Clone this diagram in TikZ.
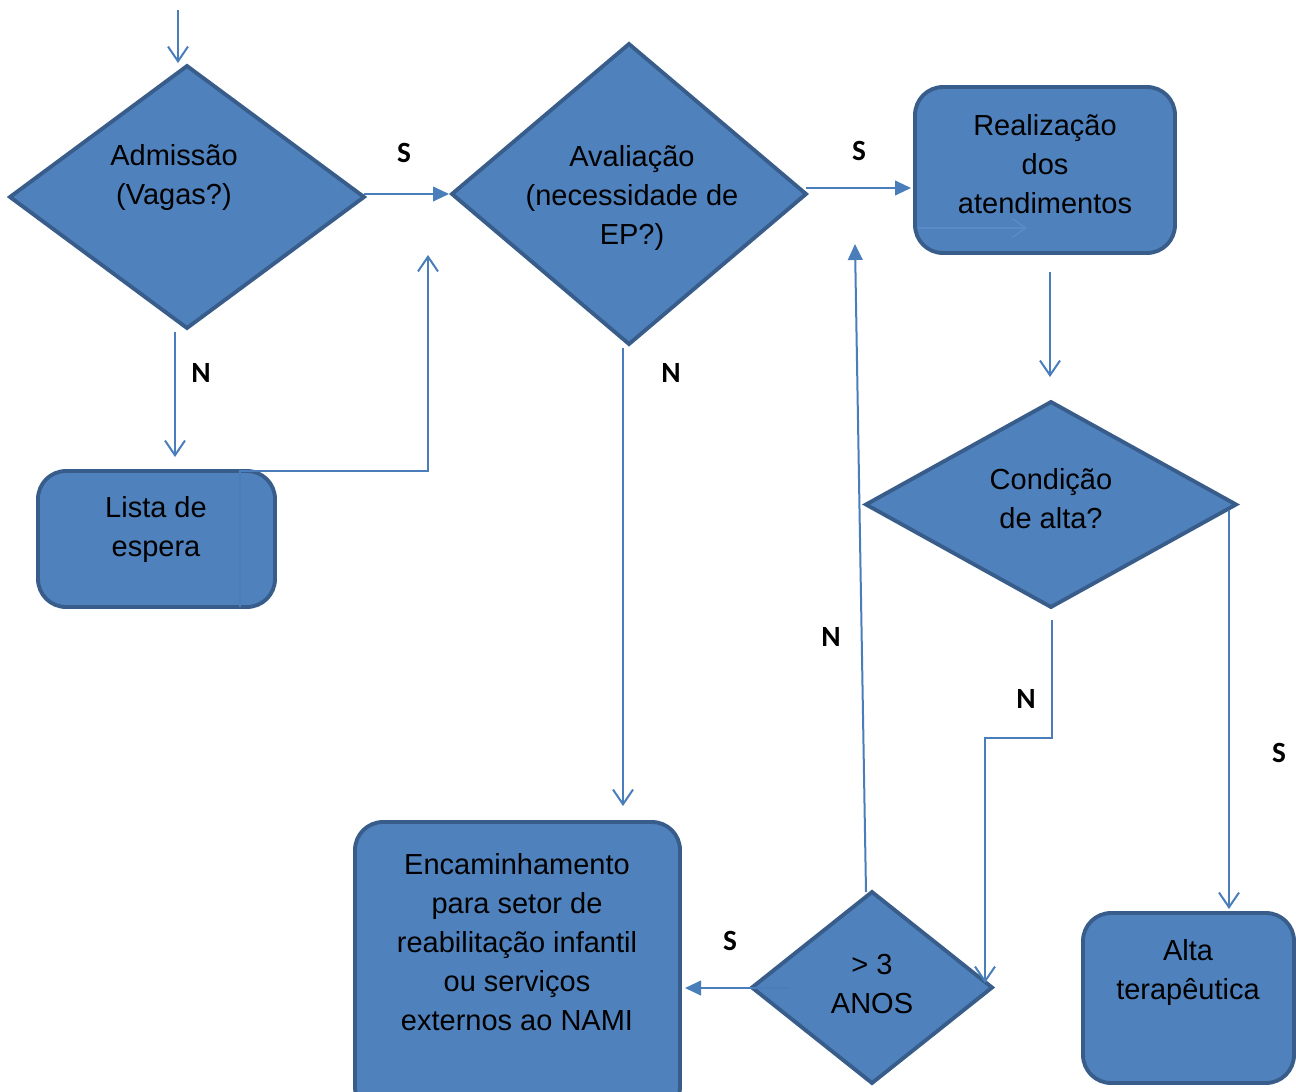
\documentclass[tikz,border=0pt]{standalone}
\usepackage{fontspec}
\setmainfont{Liberation Sans}
\newfontfamily\lblfont{Carlito}
\usetikzlibrary{arrows.meta,shapes.geometric}
\definecolor{fillblue}{HTML}{4F81BD}
\definecolor{edgeblue}{HTML}{385D8A}
\definecolor{lineblue}{HTML}{4A7EBB}
\definecolor{faintblue}{HTML}{5A8BC8}
\tikzset{
  shapebase/.style={fill=fillblue, draw=edgeblue, line width=2.9pt, inner sep=0pt, outer sep=0pt},
  dia/.style={shapebase, diamond},
  rbox/.style={shapebase, rectangle, rounded corners=21pt},
  txt/.style={align=center, text=black, inner sep=0pt, font=\fontsize{21.75}{29.25}\selectfont},
  lbl/.style={text=black, inner sep=0pt, font=\lblfont\bfseries\fontsize{22}{26}\selectfont},
  conn/.style={draw=lineblue, line width=1.5pt},
  vtip/.style={-{Straight Barb[length=11pt,width=15pt]}},
  ftip/.style={-{Triangle[length=12pt,width=11pt]}},
}
\begin{document}
\begin{tikzpicture}[x=0.75pt,y=-0.75pt]
\clip (0,0) rectangle (1296,1092);
\fill[white] (0,0) rectangle (1296,1092);

% shapes
\node[dia, minimum width=265.5pt, minimum height=196.5pt] (d1) at (187,197) {};
\node[dia, minimum width=265.5pt, minimum height=225pt] (d2) at (629,194) {};
\node[dia, minimum width=277.5pt, minimum height=153.75pt] (d3) at (1051,504.5) {};
\node[dia, minimum width=180pt, minimum height=143.25pt] (d4) at (872,987.5) {};
\node[rbox, minimum width=195pt, minimum height=124.5pt] (r1) at (1045,170) {};
\node[rbox, minimum width=177.75pt, minimum height=102pt] (r2) at (156.5,539) {};
\node[rbox, minimum width=243.75pt, minimum height=219.75pt] (r3) at (517.5,968.5) {};
\node[rbox, minimum width=158.25pt, minimum height=127.5pt] (r4) at (1188.5,998) {};

% texts
\node[txt] (t1) at (174,177) {Admissão\\(Vagas?)};
\node[txt] (t2) at (632,198) {Avaliação\\(necessidade de\\EP?)};
\node[txt] (t3) at (1045,164) {Realização\\dos\\atendimentos};
\node[txt] (t4) at (156,529) {Lista de\\espera};
\node[txt] (t5) at (1051,499) {Condição\\de alta?};
\node[txt] (t6) at (517,942) {Encaminhamento\\para setor de\\reabilitação infantil\\ou serviços\\externos ao NAMI};
\node[txt] (t7) at (872,984) {> 3\\ANOS};
\node[txt] (t8) at (1188,972) {Alta\\terapêutica};

% labels
\node[lbl] (sA) at (404,153) {S};
\node[lbl] (nA) at (201,373) {N};
\node[lbl] (sB) at (859,151) {S};
\node[lbl] (nB) at (671,373) {N};
\node[lbl] (nC) at (831,637) {N};
\node[lbl] (nD) at (1026,699) {N};
\node[lbl] (sC) at (1279,753) {S};
\node[lbl] (sD) at (730,941) {S};

% free ends and bends
\coordinate (c0) at (178,10);
\coordinate (c0e) at (178,63);
\coordinate (c1a) at (175,332);
\coordinate (c1e) at (175,457);
\coordinate (c2a) at (364,194);
\coordinate (c2e) at (449,194);
\coordinate (c3a) at (240,607);
\coordinate (c3b) at (240,471);
\coordinate (c3c) at (428,471);
\coordinate (c3e) at (428,255);
\coordinate (c4a) at (806,188);
\coordinate (c4e) at (911,188);
\coordinate (c5a) at (623,348);
\coordinate (c5e) at (623,806);
\coordinate (c6a) at (1050,272);
\coordinate (c6e) at (1050,377);
\coordinate (c7a) at (1052,620);
\coordinate (c7b) at (1052,738);
\coordinate (c7e) at (985,983);
\coordinate (c8a) at (1229,510);
\coordinate (c8e) at (1229,909);
\coordinate (c9a) at (866,892);
\coordinate (c9e) at (855,244);
\coordinate (c10a) at (790,988);
\coordinate (c10e) at (685,988);
\coordinate (c11a) at (918,228);
\coordinate (c11e) at (1027,228);

% connectors
\draw[conn, vtip] (c0) -- (c0e);
\draw[conn, vtip] (c1a) -- (c1e);
\draw[conn, ftip] (c2a) -- (c2e);
\draw[conn, vtip] (c3a) -- (c3b) -- (c3c) -- (c3e);
\draw[conn, ftip] (c4a) -- (c4e);
\draw[conn, vtip] (c5a) -- (c5e);
\draw[conn, vtip] (c6a) -- (c6e);
\draw[conn, vtip] (c7a) -- (c7b) -| (c7e);
\draw[conn, vtip] (c8a) -- (c8e);
\draw[conn, ftip] (c9a) -- (c9e);
\draw[conn, ftip] (c10a) -- (c10e);
\draw[draw=faintblue, line width=1.2pt, -{Straight Barb[length=10pt,width=14pt]}] (c11a) -- (c11e);
\end{tikzpicture}
\end{document}
